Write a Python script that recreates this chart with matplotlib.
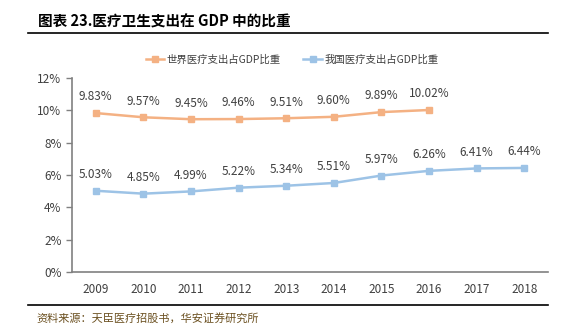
import matplotlib.pyplot as plt
from matplotlib.lines import Line2D

plt.rcParams['font.family'] = ['Noto Sans CJK SC', 'DejaVu Sans']

years = ['2009', '2010', '2011', '2012', '2013', '2014', '2015', '2016', '2017', '2018']
world = [9.83, 9.57, 9.45, 9.46, 9.51, 9.60, 9.89, 10.02]
china = [5.03, 4.85, 4.99, 5.22, 5.34, 5.51, 5.97, 6.26, 6.41, 6.44]
world_name = '世界医疗支出占GDP比重'
china_name = '我国医疗支出占GDP比重'

c_world = '#F4B183'
c_china = '#9DC3E6'

fig = plt.figure(figsize=(5.85, 3.36), dpi=100)
ax = fig.add_axes([0.123, 0.19, 0.814, 0.578])

ax.plot(range(len(world)), world, color=c_world, lw=1.8, marker='s', ms=4, label=world_name)
ax.plot(range(len(china)), china, color=c_china, lw=1.8, marker='s', ms=4, label=china_name)

for i, v in enumerate(world):
    ax.text(i, v + 0.6, f'{v:.2f}%', ha='center', va='bottom', fontsize=8.5, color='#404040')
for i, v in enumerate(china):
    ax.text(i, v + 0.6, f'{v:.2f}%', ha='center', va='bottom', fontsize=8.5, color='#404040')

ax.set_xlim(-0.5, len(years) - 0.5)
ax.set_ylim(0, 12)
ax.set_yticks(range(0, 13, 2))
ax.set_yticklabels([f'{t}%' for t in range(0, 13, 2)])
ax.set_xticks(range(len(years)))
ax.set_xticklabels(years)
ax.tick_params(axis='x', length=0, pad=8, labelsize=8.5, colors='#404040')
ax.tick_params(axis='y', length=4, width=1, color='#808080', labelsize=8.5, labelcolor='#404040')
for s in ['top', 'right']:
    ax.spines[s].set_visible(False)
for s in ['left', 'bottom']:
    ax.spines[s].set_color('#808080')
    ax.spines[s].set_linewidth(1.2)

ax.legend(loc='lower center', bbox_to_anchor=(0.462, 1.02), ncol=2, frameon=False,
          fontsize=7.5, handlelength=1.8, columnspacing=2.2, handletextpad=0.2,
          labelcolor='#404040')

fig.text(0.065, 0.935, '图表 23.医疗卫生支出在 GDP 中的比重', fontsize=10.5, fontweight='bold',
         color='black', va='center')
fig.add_artist(Line2D([0.048, 0.937], [0.902, 0.902], color='black', lw=1.2))
fig.add_artist(Line2D([0.048, 0.937], [0.093, 0.093], color='black', lw=1.2))
fig.text(0.063, 0.053, '资料来源：天臣医疗招股书，华安证券研究所', fontsize=8, color='#6B5020',
         va='center')

fig.savefig('out.png', dpi=100)
